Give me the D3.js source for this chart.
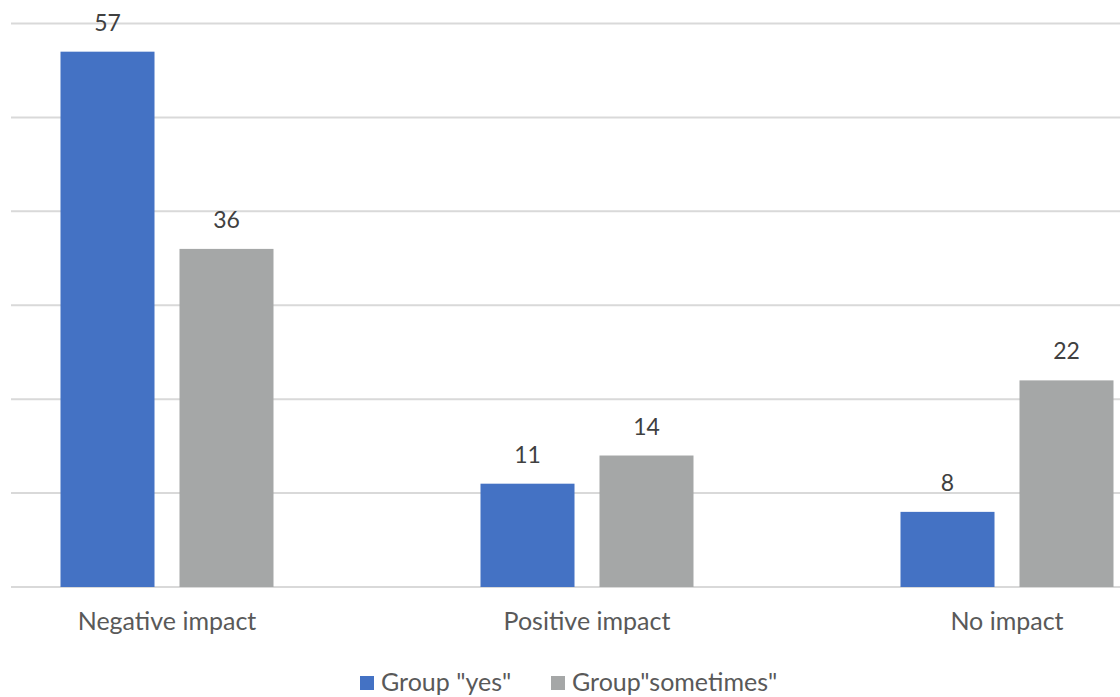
<!DOCTYPE html>
<meta charset="utf-8">
<script src="https://d3js.org/d3.v7.min.js"></script>
<style>
  body { margin: 0; background: #fff; }
  text { font-family: Lato, "Open Sans", sans-serif; }
</style>
<div id="chart"></div>
<script>

// data
var categories = ["Negative impact", "Positive impact", "No impact"]
var seriesNames = ["Group \"yes\"", "Group\"sometimes\""]
var yesValues = [57, 11, 8]
var sometimesValues = [36, 14, 22]
var yTicks = [0, 10, 20, 30, 40, 50, 60]

var colors = ["#4472C4", "#A5A7A7"]

var width = 1120, height = 697

var svg = d3.select("#chart")
  .append("svg")
  .attr("width", width)
  .attr("height", height)

// scales (the plot is cut on the left, so the band range starts off-canvas)
var x0 = d3.scaleBand()
  .domain(categories)
  .range([-43, 1217])

var x1 = d3.scaleBand()
  .domain(seriesNames)
  .range([x0.bandwidth() / 2 - 106.5, x0.bandwidth() / 2 + 106.5])
  .paddingInner(0.21)

var y = d3.scaleLinear()
  .domain([0, 60])
  .range([587, 23.5])

// gridlines
svg.append("g")
  .selectAll("line")
  .data(yTicks)
  .enter()
  .append("line")
    .attr("x1", 11)
    .attr("x2", width)
    .attr("y1", function(d) { return y(d) })
    .attr("y2", function(d) { return y(d) })
    .attr("stroke", "#D9D9D9")
    .attr("stroke-width", 2)

// bars
var rows = categories.map(function(c, i) {
  return { cat: c, values: [yesValues[i], sometimesValues[i]] }
})

var groups = svg.append("g")
  .selectAll("g")
  .data(rows)
  .enter()
  .append("g")
    .attr("transform", function(d) { return "translate(" + x0(d.cat) + ",0)" })

groups.selectAll("rect")
  .data(function(d) { return d.values.map(function(v, j) { return { s: seriesNames[j], v: v, j: j } }) })
  .enter()
  .append("rect")
    .attr("x", function(d) { return x1(d.s) })
    .attr("y", function(d) { return y(d.v) })
    .attr("width", x1.bandwidth())
    .attr("height", function(d) { return y(0) - y(d.v) })
    .attr("fill", function(d) { return colors[d.j] })

// value labels
groups.selectAll("text")
  .data(function(d) { return d.values.map(function(v, j) { return { s: seriesNames[j], v: v } }) })
  .enter()
  .append("text")
    .attr("x", function(d) { return x1(d.s) + x1.bandwidth() / 2 })
    .attr("y", function(d) { return y(d.v) - 21 })
    .attr("text-anchor", "middle")
    .attr("font-size", 23)
    .attr("fill", "#404040")
    .text(function(d) { return d.v })

// category axis labels
svg.append("g")
  .attr("transform", "translate(0,587)")
  .call(d3.axisBottom(x0).tickSize(0).tickPadding(25))
  .call(function(g) { g.select(".domain").remove() })
  .selectAll("text")
    .attr("font-size", 25)
    .attr("fill", "#595959")
    .style("font-family", "Lato, sans-serif")

// legend
var legendX = [360, 551]
var legend = svg.append("g")
  .selectAll("g")
  .data(seriesNames)
  .enter()
  .append("g")
    .attr("transform", function(d, i) { return "translate(" + legendX[i] + ",676)" })

legend.append("rect")
  .attr("width", 14)
  .attr("height", 14)
  .attr("fill", function(d, i) { return colors[i] })

legend.append("text")
  .attr("x", 21)
  .attr("y", 15)
  .attr("font-size", 25)
  .attr("fill", "#595959")
  .text(function(d) { return d })

</script>
